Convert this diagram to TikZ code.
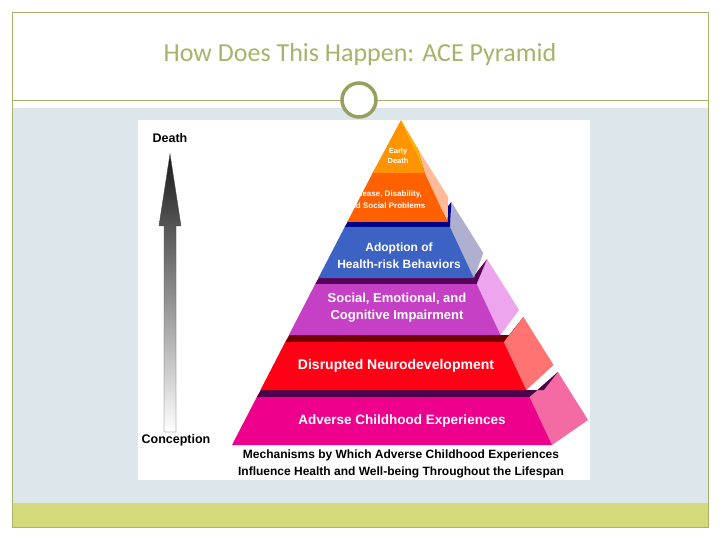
\documentclass[tikz,border=0pt]{standalone}
\usepackage{fontspec}
\setmainfont{Liberation Sans}
\newfontfamily\titlefont{Carlito}
\definecolor{bgc}{HTML}{DDE7EB}
\definecolor{barc}{HTML}{D4DA7C}
\definecolor{titc}{HTML}{A9B26A}
\begin{document}
\begin{tikzpicture}[x=1pt,y=-1pt,
  lay/.style={text=white,align=center,inner sep=0pt},
  captxt/.style={font=\bfseries\fontsize{12.5}{14}\selectfont,inner sep=0pt}]
\useasboundingbox (0,0) rectangle (720,540);
\fill[white] (0,0) rectangle (720,540);
\fill[bgc] (12,108) rectangle (708,503);
\fill[white] (12,12) rectangle (708,100);
\fill[barc] (12,503) rectangle (708,527);
\draw[titc,line width=0.6pt] (12,12) rectangle (708,527);
\draw[titc,line width=0.8pt] (12,100) -- (708,100);
\node[circle,draw=titc!90!black,line width=3.5pt,fill=white,minimum size=34pt] (ring) at (359,100) {};
\node[font=\titlefont\fontsize{26}{30}\selectfont,text=titc] (title) at (360,55) {How Does This Happen: ACE Pyramid};
\fill[white] (138,120) rectangle (590,480);
\def\layer#1#2#3#4#5{% yb yt front side strip
  \pgfmathsetmacro\xlb{232+0.517*(445-#1)}\pgfmathsetmacro\xlt{232+0.517*(445-#2)}
  \pgfmathsetmacro\xrb{552-0.468*(445-#1)}\pgfmathsetmacro\xrt{552-0.468*(445-#2)}
  \pgfmathsetmacro\xsb{588-0.627*(445-#1)}\pgfmathsetmacro\xst{588-0.627*(445-#2)}
  \fill[#4] (\xrb,#1) -- (\xsb,#1-25) -- (\xst,#2-25) -- (\xrt,#2) -- cycle;
  \fill[#5] (\xlt,#2) -- (\xrt,#2) -- (\xst,#2-25) -- (\xst-14,#2-7) -- (\xlt+4,#2-7) -- cycle;
  \fill[#3] (\xlb,#1) -- (\xrb,#1) -- (\xrt,#2) -- (\xlt,#2) -- cycle;}
\layer{445}{397}{magenta}{magenta!45!pink}{violet!60!black}
\layer{390}{342}{red!92!magenta}{red!55!white}{red!45!black}
\layer{335}{284}{violet!60!magenta!75!white}{violet!40!magenta!35!white}{violet!70!black}
\layer{278}{227}{blue!45!gray!85!cyan}{blue!25!gray!50!white}{blue!55!black}
\layer{222}{173}{orange!75!red}{red!35!orange!40!white}{orange!45!black}
\fill[orange!60!yellow] (552-0.468*272,173) -- (588-0.627*272,148) -- (401,120) -- cycle;
\fill[orange!85!yellow] (232+0.517*272,173) -- (552-0.468*272,173) -- (401,120) -- cycle;
\node[lay,font=\bfseries\fontsize{7.5}{10}\selectfont] (l6) at (398,156) {Early\\Death};
\node[lay,font=\bfseries\fontsize{8}{12}\selectfont] (l5) at (386,200) {Disease, Disability,\\and Social Problems};
\node[lay,font=\bfseries\fontsize{12}{17}\selectfont] (l4) at (399,256) {Adoption of\\Health-risk Behaviors};
\node[lay,font=\bfseries\fontsize{13}{17}\selectfont] (l3) at (397,308) {Social, Emotional, and\\Cognitive Impairment};
\node[lay,font=\bfseries\fontsize{14}{16}\selectfont] (l2) at (396,366) {Disrupted Neurodevelopment};
\node[lay,font=\bfseries\fontsize{13.5}{16}\selectfont] (l1) at (402,421) {Adverse Childhood Experiences};
\shade[top color=black!90,bottom color=white,draw=black!70,line width=0.4pt]
  (164,432) -- (176,432) -- (176,226) -- (181,226) -- (170,154) -- (159,226) -- (164,226) -- cycle;
\node[captxt] (death) at (170,138) {Death};
\node[captxt] (conc) at (176,440) {Conception};
\node[captxt,align=center,font=\bfseries\fontsize{12}{17}\selectfont] (caption) at (401,464) {Mechanisms by Which Adverse Childhood Experiences\\Influence Health and Well-being Throughout the Lifespan};
\end{tikzpicture}
\end{document}
